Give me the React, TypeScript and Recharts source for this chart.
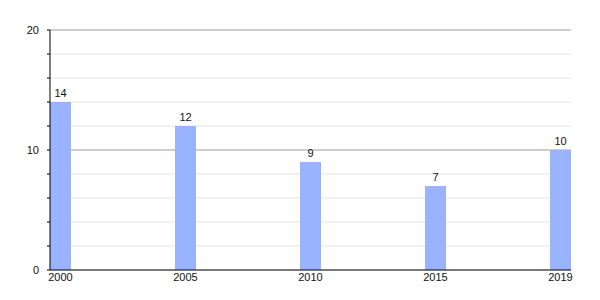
import React from 'react'
import {
  BarChart,
  Bar,
  XAxis,
  YAxis,
  CartesianGrid,
  LabelList,
} from 'recharts'

const years = ['2000', '2005', '2010', '2015', '2019']
const counts = [14, 12, 9, 7, 10]
const yTicks = [0, 2, 4, 6, 8, 10, 12, 14, 16, 18, 20]
const majorTicks = [10, 20]

const data = years.map((year, i) => ({ idx: i, year, value: counts[i] }))

const font = { fontSize: 11, fontFamily: '"Liberation Sans", Arial, sans-serif', fill: '#111' }

export default function App() {
  return (
    <div style={{ position: 'absolute', left: 0, top: 0, width: 600, height: 300, background: '#fff' }}>
      <BarChart
        width={600}
        height={300}
        data={data}
        margin={{ top: 30, right: 29, bottom: 0, left: 0 }}
      >
        <CartesianGrid
          vertical={false}
          stroke="#e2e2e2"
          horizontalValues={yTicks}
        />
        <CartesianGrid
          vertical={false}
          stroke="#aaaaaa"
          horizontalValues={majorTicks}
        />
        <XAxis
          dataKey="idx"
          type="number"
          domain={[0, 4]}
          ticks={[0, 1, 2, 3, 4]}
          tickFormatter={(v) => years[v]}
          padding={{ left: 10.5, right: 10.5 }}
          height={30}
          tickLine={false}
          tickSize={0}
          tickMargin={3}
          stroke="#000"
          tick={font}
          interval={0}
        />
        <YAxis
          domain={[0, 20]}
          ticks={yTicks}
          interval={0}
          width={50}
          tickSize={3}
          tickMargin={8}
          stroke="#000"
          tick={font}
          tickFormatter={(v) => (v % 10 === 0 ? String(v) : '')}
        />
        <Bar dataKey="value" fill="#99b3ff" barSize={21} isAnimationActive={false}>
          <LabelList dataKey="value" position="top" offset={5} style={font} />
        </Bar>
      </BarChart>
    </div>
  )
}
